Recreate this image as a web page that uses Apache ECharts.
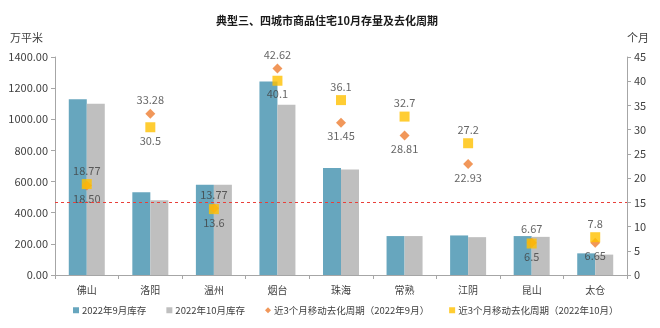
<!DOCTYPE html>
<html><head><meta charset="utf-8">
<script src="https://cdn.jsdelivr.net/npm/echarts@6/dist/echarts.min.js"></script>
<style>html,body{margin:0;padding:0;background:#fff}#c{width:660px;height:328px}</style>
</head><body><div id="c"></div>
<script>
const categories = ['佛山','洛阳','温州','烟台','珠海','常熟','江阴','昆山','太仓'];
const stockSep = [1129, 531, 580, 1242, 687, 250, 254, 250, 139];
const stockOct = [1099, 480, 580, 1093, 677, 250, 243, 245, 131];
const cycleSep = ['18.50', '33.28', '13.77', '42.62', '31.45', '28.81', '22.93', '6.67', '6.65'];
const cycleOct = ['18.77', '30.5', '13.6', '40.1', '36.1', '32.7', '27.2', '6.5', '7.8'];
const sepLabelPos = ['bottom','top','top','top','bottom','bottom','bottom','top','bottom'];
const octLabelPos = ['top','bottom','bottom','bottom','top','top','top','bottom','top'];
const leftTicks = [0, 1400, 200];
const rightTicks = [0, 45, 5];
const refLine = 15;

const font = '"Microsoft YaHei","Noto Sans CJK SC",sans-serif';
const lab = {color:'#404040', fontSize:11, fontFamily:font, distance:3,
  formatter:p=>String(p.data.value)};
function pts(vals, pos){
  return vals.map((v,i)=>({value:v, label:{position:pos[i]}}));
}
const chart = echarts.init(document.getElementById('c'));
chart.setOption({
  animation:false,
  backgroundColor:'#fff',
  textStyle:{fontFamily:font},
  title:{text:'典型三、四城市商品住宅10月存量及去化周期', left:211, top:10,
    textStyle:{fontSize:11, fontWeight:'bold', color:'#1a1a1a', fontFamily:font}},
  grid:{left:55, right:33, top:57, bottom:53},
  legend:{bottom:8, left:68, itemWidth:6, itemHeight:6, itemGap:20,
    textStyle:{fontSize:9.5, color:'#404040', fontFamily:font, padding:[0,0,0,-2]},
    data:[{name:'2022年9月库存',icon:'rect'},{name:'2022年10月库存',icon:'rect'},
          {name:'近3个月移动去化周期（2022年9月）',icon:'diamond'},{name:'近3个月移动去化周期（2022年10月）',icon:'rect'}]},
  xAxis:{type:'category', data:categories,
    axisLine:{lineStyle:{color:'#A6A6A6'}},
    axisTick:{show:true, length:4, lineStyle:{color:'#A6A6A6'}},
    axisLabel:{color:'#404040', fontSize:10, margin:10}},
  yAxis:[
    {type:'value', min:leftTicks[0], max:leftTicks[1], interval:leftTicks[2],
     name:'万平米', nameLocation:'end', nameGap:14,
     nameTextStyle:{color:'#404040', fontSize:11, align:'right', padding:[0,12,0,0]},
     axisLine:{show:true, lineStyle:{color:'#A6A6A6'}},
     axisTick:{show:true, length:4, lineStyle:{color:'#A6A6A6'}},
     splitLine:{show:false},
     axisLabel:{color:'#404040', fontSize:11, margin:7, formatter:v=>v.toFixed(2)}},
    {type:'value', min:rightTicks[0], max:rightTicks[1], interval:rightTicks[2],
     name:'个月', nameLocation:'end', nameGap:14,
     nameTextStyle:{color:'#404040', fontSize:11, align:'left', padding:[0,0,0,0]},
     axisLine:{show:true, lineStyle:{color:'#A6A6A6'}},
     axisTick:{show:true, length:4, lineStyle:{color:'#A6A6A6'}},
     splitLine:{show:false},
     axisLabel:{color:'#404040', fontSize:11, margin:7}}
  ],
  series:[
    {name:'2022年9月库存', type:'bar', data:stockSep, barWidth:18, barGap:'0%',
     itemStyle:{color:'#67A6BE'}},
    {name:'2022年10月库存', type:'bar', data:stockOct, barWidth:18,
     itemStyle:{color:'#BFBFBF'}},
    {name:'近3个月移动去化周期（2022年9月）', type:'scatter', yAxisIndex:1,
     symbol:'diamond', symbolSize:10, itemStyle:{color:'#ED7D31'},
     label:Object.assign({show:true}, lab),
     data:pts(cycleSep, sepLabelPos),
     markLine:{silent:true, symbol:['none','none'], label:{show:false},
       lineStyle:{color:'#E8403A', type:[3,3], width:1},
       data:[{yAxis:refLine}]}},
    {name:'近3个月移动去化周期（2022年10月）', type:'scatter', yAxisIndex:1,
     symbol:'rect', symbolSize:10, itemStyle:{color:'#FFC000'},
     label:Object.assign({show:true}, lab),
     data:pts(cycleOct, octLabelPos)}
  ]
});
</script></body></html>
